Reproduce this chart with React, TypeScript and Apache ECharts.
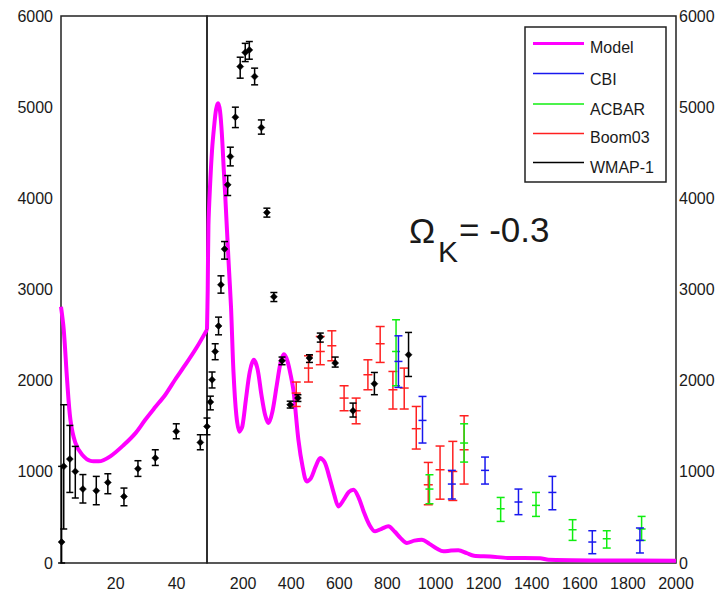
import React, { useEffect, useRef } from "react";
import * as echarts from "echarts";

// ---- Model curve (magenta) ----
const modelLeftEll = [2, 2.9, 4, 5.1, 6.7, 8.9, 11.7, 14.4, 18.2, 22.7, 26.5, 29.7, 33, 36.3, 39.5, 42.9, 46.8, 50];
const modelLeftVal = [2810, 2560, 2010, 1570, 1320, 1190, 1120, 1115, 1170, 1297, 1425, 1571, 1710, 1846, 2010, 2175, 2375, 2560];

const modelRightEll = [50, 53, 56, 62, 71, 80, 88, 96, 104, 112, 120, 126, 140, 150, 160, 172, 185, 197, 212, 228, 244, 260, 276, 292, 306, 322, 340, 356, 370, 384, 398, 410, 430, 448, 465, 482, 502, 521, 540, 560, 580, 597, 620, 640, 659, 680, 702, 725, 749, 776, 804, 830, 856, 881, 912, 943, 975, 1005, 1033, 1065, 1095, 1130, 1160, 1227, 1300, 1435, 1470, 1700, 2000];
const modelRightVal = [2560, 3000, 3700, 4100, 4530, 4800, 4980, 5044, 4960, 4700, 4300, 4020, 3290, 2800, 2100, 1620, 1440, 1500, 1800, 2100, 2229, 2130, 1850, 1620, 1535, 1660, 1950, 2200, 2290, 2220, 2060, 1880, 1352, 1050, 895, 930, 1060, 1151, 1100, 930, 740, 621, 700, 780, 804, 720, 560, 420, 347, 375, 402, 345, 270, 219, 245, 256, 210, 160, 128, 136, 139, 108, 80, 72, 55, 52, 35, 28, 25];

// ---- WMAP-1 (black) ----
const wmapEll = [2.2, 2.9, 4.9, 6.7, 9.2, 13.6, 17.4, 22.7, 27.3, 33, 39.9, 47.8, 50, 64, 71, 84, 98, 108, 123, 136, 147, 168, 188, 209, 226, 248, 276, 299, 328, 362, 396, 428, 476, 521, 583, 657, 746, 888];
const wmapVal = [230, 1060, 1140, 1004, 811, 793, 884, 730, 1034, 1151, 1443, 1323, 1498, 1765, 2010, 2320, 2600, 3052, 3443, 4148, 4458, 4890, 5445, 5599, 5628, 5336, 4776, 3844, 2920, 2218, 1736, 1809, 2248, 2478, 2193, 1670, 1966, 2284];
const wmapLow = [0, 373, 774, 713, 658, 639, 760, 628, 950, 1070, 1363, 1242, 1407, 1680, 1920, 2230, 2503, 2960, 3333, 4031, 4356, 4776, 5318, 5500, 5526, 5245, 4704, 3794, 2868, 2175, 1700, 1772, 2200, 2423, 2149, 1601, 1846, 2046];
const wmapHigh = [1060, 1736, 1509, 1279, 970, 950, 979, 822, 1122, 1242, 1527, 1407, 1590, 1830, 2095, 2405, 2697, 3150, 3526, 4250, 4561, 5000, 5548, 5700, 5720, 5428, 4860, 3892, 2967, 2259, 1775, 1846, 2284, 2522, 2259, 1754, 2090, 2529];

// ---- Boom03 (red) ----
const boomEll = [421, 472, 521, 569, 620, 670, 719, 770, 823, 870, 920, 970, 1019, 1072, 1119];
const boomVal = [1864, 2138, 2320, 2383, 1809, 1670, 2065, 2405, 1900, 1919, 1473, 858, 1023, 1004, 1242];
const boomLow = [1717, 1985, 2175, 2218, 1670, 1527, 1900, 2200, 1689, 1689, 1250, 639, 700, 686, 866];
const boomHigh = [1985, 2273, 2485, 2547, 1944, 1809, 2229, 2594, 2101, 2138, 1717, 1103, 1283, 1334, 1615];

// ---- ACBAR (green) ----
const acbarEll = [836, 975, 1119, 1271, 1418, 1570, 1712, 1857];
const acbarVal = [2320, 811, 1316, 595, 632, 365, 266, 373];
const acbarLow = [1944, 650, 1107, 456, 511, 248, 164, 248];
const acbarHigh = [2668, 968, 1527, 719, 774, 475, 354, 511];

// ---- CBI (blue) ----
const cbiEll = [846, 946, 1068, 1206, 1345, 1486, 1652, 1850];
const cbiVal = [2211, 1564, 866, 1016, 669, 774, 230, 248];
const cbiLow = [1926, 1316, 702, 866, 530, 584, 102, 110];
const cbiHigh = [2492, 1827, 1016, 1162, 811, 950, 354, 384];

// ---- axes ----
const leftTicks = [20, 40];
const rightTicks = [200, 400, 600, 800, 1000, 1200, 1400, 1600, 1800, 2000];
const legendNames = ["Model", "CBI", "ACBAR", "Boom03", "WMAP-1"];

const FONT = '"Liberation Sans", Arial, Helvetica, sans-serif';
const TXT = "#1a1a1a";
const MAGENTA = "#ff00ff";
const RED = "#ff2020";
const GREEN = "#10ee10";
const BLUE = "#1818ee";
const BLACK = "#000000";

const zip = (e: number[], v: number[], lo: number[], hi: number[]) =>
  e.map((x, i) => [x, v[i], lo[i], hi[i]]);

const makeErr = (color: string, diamond: boolean, cap: number) => (_p: any, api: any) => {
  const ell = api.value(0);
  const v = api.value(1);
  const lo = api.value(2);
  const hi = api.value(3);
  const top = api.coord([ell, hi]);
  const bot = api.coord([ell, lo]);
  const mid = api.coord([ell, v]);
  const st = { stroke: color, lineWidth: 1.5, fill: null };
  const children: any[] = [
    { type: "line", shape: { x1: top[0], y1: top[1], x2: bot[0], y2: bot[1] }, style: st },
    { type: "line", shape: { x1: top[0] - cap, y1: top[1], x2: top[0] + cap, y2: top[1] }, style: st },
    { type: "line", shape: { x1: bot[0] - cap, y1: bot[1], x2: bot[0] + cap, y2: bot[1] }, style: st },
  ];
  if (diamond) {
    const r = 3.5;
    children.push({
      type: "polygon",
      shape: { points: [[mid[0], mid[1] - r], [mid[0] + r, mid[1]], [mid[0], mid[1] + r], [mid[0] - r, mid[1]]] },
      style: { fill: color, stroke: color, lineWidth: 0.5 },
    });
  } else {
    children.push({ type: "line", shape: { x1: mid[0] - cap, y1: mid[1], x2: mid[0] + cap, y2: mid[1] }, style: st });
  }
  return { type: "group", children };
};

const plain = (v: number) => String(v);

export default function App() {
  const ref = useRef<HTMLDivElement>(null);
  useEffect(() => {
    const chart = echarts.init(ref.current!, null, { renderer: "svg" });
    const wmapAll = zip(wmapEll, wmapVal, wmapLow, wmapHigh);
    const wmapLeft = wmapAll.filter((d) => d[0] <= 50);
    const wmapRight = wmapAll.filter((d) => d[0] > 50);
    const axisLabelBase = { fontSize: 16, color: TXT, fontFamily: FONT, formatter: plain };
    const legendColors = [MAGENTA, BLUE, GREEN, RED, BLACK];
    const legendLineY = [43.5, 73.5, 104, 133.5, 162.5];
    const legendTextY = [47.7, 79, 109, 137.5, 167];
    const legendGraphics: any[] = [
      {
        type: "rect",
        shape: { x: 525, y: 27, width: 141, height: 155 },
        style: { fill: "#fff", stroke: "#222", lineWidth: 1.5 },
        z: 10,
      },
    ];
    legendNames.forEach((name, i) => {
      legendGraphics.push({
        type: "line",
        shape: { x1: 533, y1: legendLineY[i], x2: 584, y2: legendLineY[i] },
        style: { stroke: legendColors[i], lineWidth: i === 0 ? 3 : 1.3 },
        z: 11,
      });
      legendGraphics.push({
        type: "text",
        x: 590,
        y: legendTextY[i],
        style: { text: name, fontSize: 16, fontFamily: FONT, fill: TXT, verticalAlign: "middle", align: "left" },
        z: 11,
      });
    });
    const option: any = {
      animation: false,
      backgroundColor: "#fff",
      grid: [
        { left: 61, top: 16, width: 146, height: 547, show: true, borderColor: "#222", borderWidth: 1.5, backgroundColor: "transparent" },
        { left: 207, top: 16, width: 469, height: 547, show: true, borderColor: "#222", borderWidth: 1.5, backgroundColor: "transparent" },
      ],
      xAxis: [
        {
          gridIndex: 0, type: "value", min: 2, max: 50,
          axisLine: { show: false }, axisTick: { show: false }, splitLine: { show: false },
          axisLabel: { ...axisLabelBase, margin: 12, customValues: leftTicks },
        },
        {
          gridIndex: 1, type: "value", min: 50, max: 2000,
          axisLine: { show: false }, axisTick: { show: false }, splitLine: { show: false },
          axisLabel: { ...axisLabelBase, margin: 12, customValues: rightTicks },
        },
      ],
      yAxis: [
        {
          gridIndex: 0, type: "value", min: 0, max: 6000, interval: 1000,
          axisLine: { show: false }, axisTick: { show: false }, splitLine: { show: false },
          axisLabel: { ...axisLabelBase, margin: 8 },
        },
        {
          gridIndex: 1, type: "value", position: "right", min: 0, max: 6000, interval: 1000,
          axisLine: { show: false }, axisTick: { show: false }, splitLine: { show: false },
          axisLabel: { ...axisLabelBase, margin: 3 },
        },
      ],
      series: [
        {
          name: "Model", type: "line", xAxisIndex: 0, yAxisIndex: 0,
          data: modelLeftEll.map((e, i) => [e, modelLeftVal[i]]),
          showSymbol: false, smooth: 0.3, lineStyle: { color: MAGENTA, width: 4 }, z: 2,
        },
        {
          name: "Model", type: "line", xAxisIndex: 1, yAxisIndex: 1,
          data: modelRightEll.map((e, i) => [e, modelRightVal[i]]),
          showSymbol: false, smooth: 0.3, lineStyle: { color: MAGENTA, width: 4 }, z: 2,
        },
        {
          name: "Boom03", type: "custom", xAxisIndex: 1, yAxisIndex: 1,
          renderItem: makeErr(RED, false, 4.5), encode: { x: 0, y: 1 },
          data: zip(boomEll, boomVal, boomLow, boomHigh), z: 3,
        },
        {
          name: "ACBAR", type: "custom", xAxisIndex: 1, yAxisIndex: 1,
          renderItem: makeErr(GREEN, false, 4), encode: { x: 0, y: 1 },
          data: zip(acbarEll, acbarVal, acbarLow, acbarHigh), z: 4,
        },
        {
          name: "CBI", type: "custom", xAxisIndex: 1, yAxisIndex: 1,
          renderItem: makeErr(BLUE, false, 4), encode: { x: 0, y: 1 },
          data: zip(cbiEll, cbiVal, cbiLow, cbiHigh), z: 5,
        },
        {
          name: "WMAP-1", type: "custom", xAxisIndex: 0, yAxisIndex: 0,
          renderItem: makeErr(BLACK, true, 3.5), encode: { x: 0, y: 1 },
          data: wmapLeft, z: 6,
        },
        {
          name: "WMAP-1", type: "custom", xAxisIndex: 1, yAxisIndex: 1,
          renderItem: makeErr(BLACK, true, 3.5), encode: { x: 0, y: 1 },
          data: wmapRight, z: 6,
        },
      ],
      graphic: [
        ...legendGraphics,
        {
          type: "text", x: 409, y: 230.5,
          style: { text: "Ω", fontSize: 35, fontFamily: FONT, fill: TXT, verticalAlign: "middle", align: "left" },
        },
        {
          type: "text", x: 438, y: 251,
          style: { text: "K", fontSize: 30, fontFamily: FONT, fill: TXT, verticalAlign: "middle", align: "left" },
        },
        {
          type: "text", x: 459, y: 229.7,
          style: { text: "= -0.3", fontSize: 35, fontFamily: FONT, fill: TXT, verticalAlign: "middle", align: "left" },
        },
      ],
    };
    chart.setOption(option);
    return () => chart.dispose();
  }, []);
  return (
    <div
      ref={ref}
      style={{ position: "fixed", left: 0, top: 0, width: 719, height: 592, background: "#fff" }}
    />
  );
}
